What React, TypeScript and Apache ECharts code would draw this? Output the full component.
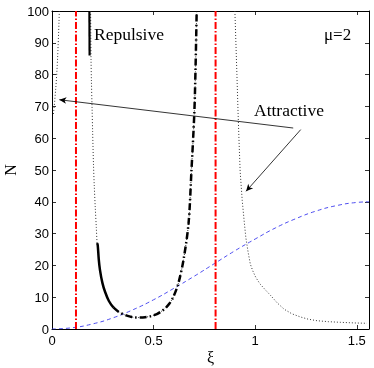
import React, { useEffect, useRef } from "react";
import * as echarts from "echarts";

// Blue dashed curve
const blueXi = [0, 0.1, 0.2, 0.3, 0.4, 0.5, 0.6, 0.7, 0.8, 0.9, 1.0, 1.1, 1.2, 1.3, 1.4, 1.5, 1.56];
const blueN = [0, 0.4, 1.6, 3.5, 6.1, 9.2, 12.8, 16.6, 20.6, 24.6, 28.3, 31.8, 34.7, 37.1, 38.8, 39.8, 40];

// Red dash-dot vertical lines (xi positions)
const redXi = [0.118, 0.805];

// Left dotted branch
const leftXi = [0.036, 0.031, 0.023, 0.013, 0.006];
const leftN = [100, 90.6, 79.9, 71.5, 67];

// Middle (repulsive) dotted branch
const midXi = [0.19, 0.191, 0.192, 0.194, 0.197, 0.2, 0.204, 0.208, 0.213, 0.218, 0.222, 0.225, 0.23, 0.236, 0.248, 0.261, 0.28, 0.302, 0.33, 0.36, 0.385, 0.409, 0.435, 0.458, 0.49, 0.516, 0.537, 0.557, 0.578, 0.598, 0.622, 0.647, 0.672, 0.686, 0.7, 0.706, 0.712];
const midN = [100, 92, 85, 78, 70, 62, 52, 45, 38, 32, 27, 26.4, 22, 18.6, 14.5, 11.7, 8.8, 6.8, 5.3, 4.4, 3.9, 3.6, 3.6, 3.7, 4.1, 4.7, 5.5, 6.5, 8.0, 10.2, 14.4, 21.7, 33.2, 49.5, 67.3, 80.9, 100];

// Solid segments
const solidTopXi = [0.184, 0.185];
const solidTopN = [100, 86];
const solidXi = [0.222, 0.225, 0.23, 0.236, 0.248, 0.261, 0.28, 0.302];
const solidN = [27, 26.4, 22, 18.6, 14.5, 11.7, 8.8, 6.8];

// Dash-dot segment
const dashDotXi = [0.302, 0.33, 0.36, 0.385, 0.409, 0.435, 0.458, 0.49, 0.516, 0.537, 0.557, 0.578, 0.598, 0.622, 0.647, 0.672, 0.686, 0.7, 0.706, 0.712];
const dashDotN = [6.8, 5.3, 4.4, 3.9, 3.6, 3.6, 3.7, 4.1, 4.7, 5.5, 6.5, 8.0, 10.2, 14.4, 21.7, 33.2, 49.5, 67.3, 80.9, 100];

// Right dotted branch
const rightXi = [0.9, 0.905, 0.91, 0.916, 0.921, 0.926, 0.936, 0.946, 0.954, 0.965, 0.976, 0.988, 1.0, 1.013, 1.026, 1.05, 1.075, 1.11, 1.143, 1.18, 1.222, 1.26, 1.305, 1.36, 1.42, 1.49, 1.55];
const rightN = [100, 90, 80, 67.3, 58, 49.5, 40.5, 33.7, 28.7, 24.2, 20.4, 18.3, 16.6, 15.2, 14.0, 12.3, 10.6, 8.1, 6.2, 4.8, 3.8, 3.1, 2.6, 2.3, 2.1, 1.9, 1.8];

// Arrows: [fromXi, fromN, toXi, toN]
const arrow1 = [1.187, 63.2, 0.036, 72.1];
const arrow2 = [1.224, 62.7, 0.955, 43.3];

const xTicks = [0, 0.5, 1, 1.5];

const zip = (xs: number[], ys: number[]) => xs.map((x, i) => [x, ys[i]]);

export default function App() {
  const ref = useRef<HTMLDivElement>(null);
  useEffect(() => {
    if (!ref.current) return;
    const chart = echarts.init(ref.current, undefined, { renderer: "svg" });
    const axisLine = { show: true, onZero: false, lineStyle: { color: "#000", width: 1 } };
    const tickStyle = { show: true, inside: true, length: 4, lineStyle: { color: "#000", width: 0.8 } };
    const labelFont = { fontFamily: "Liberation Sans", fontSize: 13, color: "#000" };
    const xFmt = (v: number) => {
      const m = xTicks.find((t) => Math.abs(t - v) < 1e-6);
      return m === undefined ? "" : String(m);
    };
    const dotted = { color: "#333", width: 1, type: [1, 2] as any };
    chart.setOption({
      animation: false,
      grid: { left: 52, right: 5, top: 11, bottom: 39, containLabel: false, outerBoundsMode: "none" },
      xAxis: [
        {
          type: "value", min: 0, max: 1.56, interval: 0.5, position: "bottom",
          axisLine, axisTick: tickStyle, splitLine: { show: false },
          axisLabel: { ...labelFont, margin: 5, formatter: xFmt, showMaxLabel: false },
          name: "ξ", nameLocation: "middle", nameGap: 20, nameMoveOverlap: false,
          nameTextStyle: { fontFamily: "Liberation Serif", fontSize: 16, color: "#000" },
        },
        {
          type: "value", min: 0, max: 1.56, interval: 0.5, position: "top",
          axisLine, axisTick: tickStyle, splitLine: { show: false }, axisLabel: { show: false },
        },
      ],
      yAxis: [
        {
          type: "value", min: 0, max: 100, interval: 10, position: "left",
          axisLine, axisTick: tickStyle, splitLine: { show: false },
          axisLabel: { ...labelFont, margin: 3 },
          name: "N", nameLocation: "middle", nameGap: 34, nameMoveOverlap: false,
          nameTextStyle: { fontFamily: "Liberation Serif", fontSize: 16, color: "#000" },
        },
        {
          type: "value", min: 0, max: 100, interval: 10, position: "right",
          axisLine, axisTick: tickStyle, splitLine: { show: false }, axisLabel: { show: false },
        },
      ],
      series: [
        {
          type: "line", data: zip(blueXi, blueN), showSymbol: false, smooth: true,
          lineStyle: { color: "#3a3aee", width: 0.9, type: [4, 3] },
        },
        ...redXi.map((x) => ({
          type: "line", data: [[x, 0], [x, 100]], showSymbol: false,
          lineStyle: { color: "#ff0000", width: 2, type: [7, 2, 1.5, 2] },
        })),
        { type: "line", data: zip(leftXi, leftN), showSymbol: false, smooth: true, lineStyle: dotted },
        { type: "line", data: zip(midXi, midN), showSymbol: false, smooth: 0.3, lineStyle: dotted },
        { type: "line", data: zip(rightXi, rightN), showSymbol: false, smooth: false, lineStyle: dotted },
        {
          type: "line", data: zip(solidTopXi, solidTopN), showSymbol: false,
          lineStyle: { color: "#000", width: 2.2, type: "solid" },
        },
        {
          type: "line", data: zip(solidXi, solidN), showSymbol: false, smooth: 0.3,
          lineStyle: { color: "#000", width: 2.5, type: "solid" },
        },
        {
          type: "line", data: zip(dashDotXi, dashDotN), showSymbol: false, smooth: 0.3,
          lineStyle: { color: "#000", width: 2.5, type: [7, 3, 1.5, 3] },
        },
        {
          type: "line", data: [], showSymbol: false,
          markLine: {
            silent: true, animation: false,
            symbol: ["none", "arrow"], symbolSize: [5, 7],
            label: { show: false },
            lineStyle: { color: "#000", width: 0.8, type: "solid" },
            data: [
              [{ coord: [arrow1[0], arrow1[1]] }, { coord: [arrow1[2], arrow1[3]] }],
              [{ coord: [arrow2[0], arrow2[1]] }, { coord: [arrow2[2], arrow2[3]] }],
            ],
          },
        },
      ],
      graphic: [
        {
          type: "text", x: 94, y: 33.6,
          style: { text: "Repulsive", font: '17.5px "Liberation Serif"', fill: "#000", align: "left", verticalAlign: "middle" },
        },
        {
          type: "text", x: 254, y: 110.3,
          style: { text: "Attractive", font: '17.5px "Liberation Serif"', fill: "#000", align: "left", verticalAlign: "middle" },
        },
        {
          type: "text", x: 324, y: 34.3,
          style: { text: "μ=2", font: '17px "Liberation Serif"', fill: "#000", align: "left", verticalAlign: "middle" },
        },
      ],
    });
    return () => chart.dispose();
  }, []);
  return <div ref={ref} style={{ position: "fixed", left: 0, top: 0, width: 374, height: 368 }} />;
}
